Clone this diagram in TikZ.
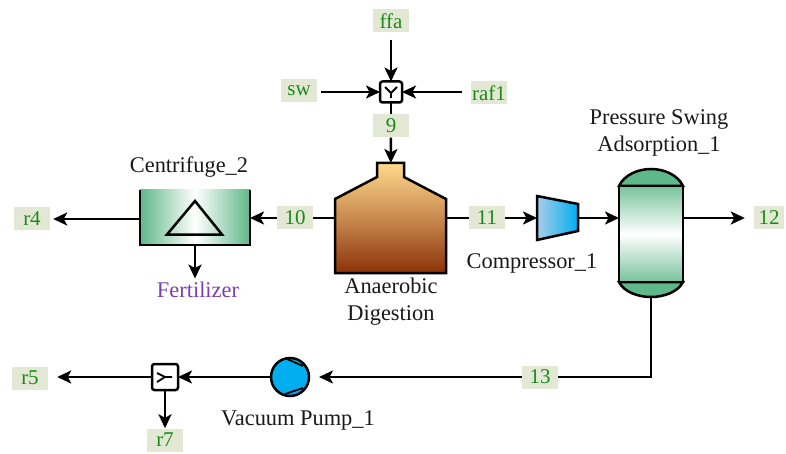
\documentclass[tikz,border=0pt]{standalone}
\usepackage{fontspec}
\setmainfont{Liberation Serif}
\usetikzlibrary{arrows.meta}
\definecolor{tagfill}{HTML}{E2E8D3}
\definecolor{taggreen}{HTML}{1A8A1A}
\definecolor{fertpurple}{HTML}{7A3FA8}
\definecolor{vesselgreen}{HTML}{5FB88A}
\definecolor{digtop}{HTML}{FFD98C}
\definecolor{digmid}{HTML}{C98A50}
\definecolor{digbot}{HTML}{8A3207}
\definecolor{cyanfill}{HTML}{00AEEF}
\definecolor{complight}{HTML}{A8CDEB}
\tikzset{
  tag/.style={shape=rectangle, fill=tagfill, text=taggreen, font=\fontsize{21}{24}\selectfont, minimum width=36, minimum height=23, inner sep=0},
  caption/.style={align=center, font=\fontsize{22.4}{27}\selectfont, text=black!90},
  unit/.style={shape=rectangle, minimum width=#1, inner sep=0, outer sep=0},
  stub/.style={line width=2.5, draw=black},
  flow/.style={stub, -{Stealth[length=14,width=13,inset=3.5]}},
  junction/.style={shape=rectangle, draw=black, line width=2.5, rounded corners=2.5, fill=white, inner sep=0, outer sep=0}
}

\begin{document}
\begin{tikzpicture}[x=1pt, y=-1pt]
\useasboundingbox (0,0) rectangle (786,454);

% stream labels
\node[tag](ffa) at (391,21) {ffa};
\node[tag](sw) at (299,91) {sw};
\node[tag](raf1) at (489,93) {raf1};
\node[tag](s9) at (391,126) {9};
\node[tag](s10) at (295,218) {10};
\node[tag](s11) at (487,218) {11};
\node[tag, minimum width=30](s12) at (769,218) {12};
\node[tag](s13) at (540,377) {13};
\node[tag](r4) at (32,219) {r4};
\node[tag](r5) at (30,378) {r5};
\node[tag](r7) at (165,440) {r7};

% mixer and splitter
\node[junction, minimum width=22, minimum height=21](mix) at (391,92) {};
\draw[line width=1.8] (385,87) -- (391,93) -- (397,87) (391,93) -- (391,98);
\node[junction, minimum width=26, minimum height=26](split) at (165,377) {};
\draw[line width=1.8] (157,373) -- (165,377) -- (157,382) (165,377) -- (172,377);

% centrifuge
\node[unit=110, minimum height=55, left color=vesselgreen, right color=vesselgreen, middle color=white](cent) at (195,217.5) {};
\draw[line width=2.5] (cent.north west) -- (cent.south west) -- (cent.south east) -- (cent.north east);
\draw[line width=2.5] (195,201) -- (222,234.5) -- (167,234.5) -- cycle;

% digester
\node[unit=111, minimum height=110](dig) at (390.5,218) {};
\draw[line width=2.5, top color=digtop, bottom color=digbot, middle color=digmid]
  (377,163) -- (404,163) -- (404,177) -- (446,199) -- (446,273) -- (335,273) -- (335,199) -- (377,177) -- cycle;

% compressor
\node[unit=41, minimum height=44](comp) at (557.5,218) {};
\draw[line width=2.5, left color=complight, right color=cyanfill] (537,196) -- (578,204) -- (578,231) -- (537,240) -- cycle;

% pressure swing vessel
\node[unit=64, minimum height=128](psa) at (651,233) {};
\draw[line width=2.5, fill=vesselgreen] (619,186) .. controls (624,175) and (638,169) .. (651,169) .. controls (664,169) and (678,175) .. (683,186) -- cycle;
\draw[line width=2.5, fill=vesselgreen] (619,282) .. controls (624,292) and (638,297) .. (651,297) .. controls (664,297) and (678,292) .. (683,282) -- cycle;
\draw[line width=2.5, top color=vesselgreen!85, bottom color=vesselgreen!85, middle color=white] (619,186) rectangle (683,282);

% vacuum pump
\node[shape=circle, draw=black, line width=2.5, fill=cyanfill, minimum size=38, inner sep=0, outer sep=0](pump) at (290,377) {};
\draw[line width=1.8] (287,359) -- (303,366) (285,394) -- (303,388);

% captions
\node[caption](centname) at (189,167) {Centrifuge\_2};
\node[caption, text=fertpurple](fert) at (198,290) {Fertilizer};
\node[caption](digname) at (391,302) {Anaerobic\\Digestion};
\node[caption](compname) at (532,263) {Compressor\_1};
\node[caption](psaname) at (659,133) {Pressure Swing\\Adsorption\_1};
\node[caption](pumpname) at (298,420) {Vacuum Pump\_1};

% streams
\draw[flow, shorten <=7] (ffa) -- (mix);
\draw[flow, shorten <=4] (sw.east |- mix) -- (mix);
\draw[flow, shorten <=9] (raf1.west |- mix) -- (mix);
\draw[stub] (mix) -- (s9);
\draw[flow] (s9) -- (dig);
\draw[stub] (dig.west) -- (s10);
\draw[flow] (s10) -- (cent.east |- s10);
\draw[flow, shorten >=3] (cent.west |- r4) -- (r4);
\draw[flow] (cent.south) -- (cent.south |- fert.north);
\draw[stub] (dig.east) -- (s11);
\draw[flow] (s11) -- (comp);
\draw[flow] (comp.east) -- (comp.east -| psa.west);
\draw[flow, shorten >=9] (psa.east |- s12) -- (s12);
\draw[stub] (psa.south) |- (s13);
\draw[flow, shorten >=10] (s13) -- (pump);
\draw[flow] (pump) -- (split);
\draw[flow, shorten >=9] (split) -- (r5.east |- split);
\draw[flow] (split) -- (r7);
\end{tikzpicture}
\end{document}
